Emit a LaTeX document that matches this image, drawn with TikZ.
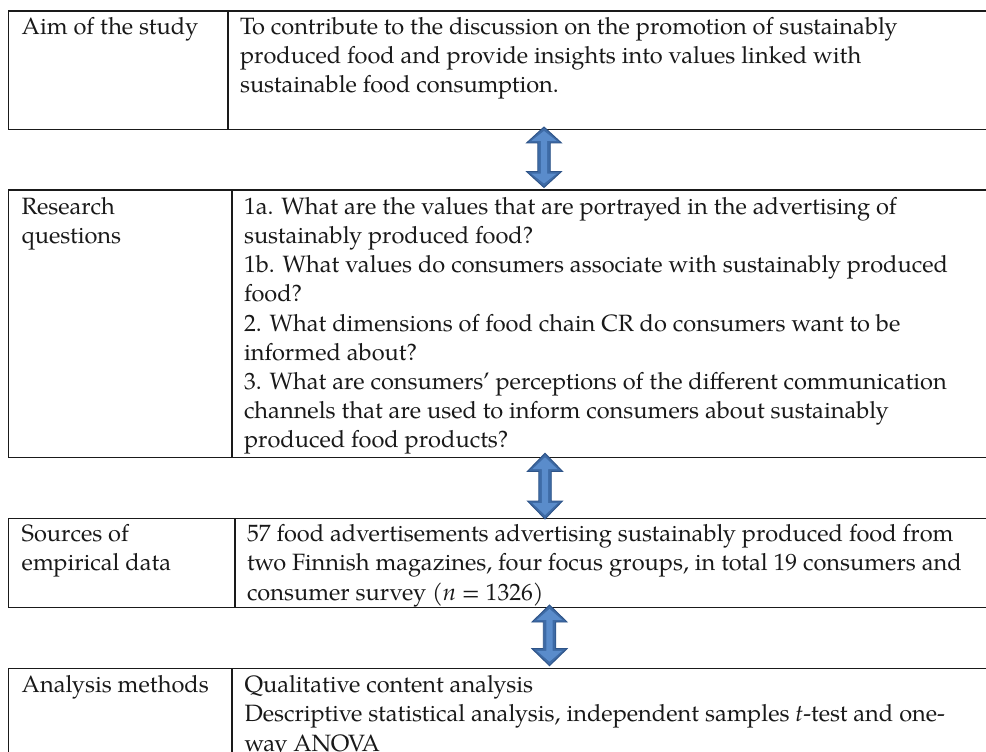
\documentclass[tikz,border=0pt]{standalone}
\usepackage{fontspec}
\setmainfont{texgyrepagella}[Extension=.otf, UprightFont=*-regular, ItalicFont=*-italic, BoldFont=*-bold, BoldItalicFont=*-bolditalic]
\usetikzlibrary{calc}
\definecolor{arrdark}{HTML}{3E6BA6}
\definecolor{arredge}{HTML}{2E5488}
\definecolor{arrlight}{HTML}{5A8CCB}
\definecolor{rule}{HTML}{1A1A1A}
\newcommand{\dblarr}[3]{%
  \filldraw[fill=arrdark, draw=arredge, line width=0.7pt, line join=miter]
    (#1) -- ($(#1)+(17.5,#3)$) -- ($(#1)+(6.25,#3)$) -- ($(#2)+(6.25,-#3)$)
    -- ($(#2)+(17.5,-#3)$) -- (#2) -- ($(#2)+(-17.5,-#3)$) -- ($(#2)+(-6.25,-#3)$)
    -- ($(#1)+(-6.25,#3)$) -- ($(#1)+(-17.5,#3)$) -- cycle;
  \fill[arrlight]
    ($(#1)+(0,4)$) -- ($(#1)+(12.5,#3-2.2)$) -- ($(#1)+(3.2,#3-2.2)$) -- ($(#2)+(3.2,-#3+2.2)$)
    -- ($(#2)+(12.5,-#3+2.2)$) -- ($(#2)+(0,-4)$) -- ($(#2)+(-12.5,-#3+2.2)$) -- ($(#2)+(-3.2,-#3+2.2)$)
    -- ($(#1)+(-3.2,#3-2.2)$) -- ($(#1)+(-12.5,#3-2.2)$) -- cycle;
}
\begin{document}
\begin{tikzpicture}[x=0.75pt,y=-0.75pt,
  cell/.style={draw=rule, line width=1.2pt, anchor=north west, inner sep=0pt, outer sep=0pt},
  txt/.style={anchor=base west, inner sep=0pt, outer sep=0pt, font=\fontsize{17.7}{21.9}\selectfont, text=black!90}]
\useasboundingbox (0,0) rectangle (986,752);
\clip (0,0) rectangle (986,752);
\fill[white] (0,0) rectangle (986,752);

% Row 1
\node[cell, minimum width=164.78pt, minimum height=88.88pt] (aimL) at (8.3,11) {};
\node[cell, minimum width=579pt, minimum height=88.88pt] (aimR) at (228,11) {};
\node[txt] (aimLt) at (21.7,34.3) {\parbox[t]{160pt}{\raggedright Aim of the study}};
\node[txt] (aimRt) at (240,34.3) {\parbox[t]{560pt}{\raggedright To contribute to the discussion on the promotion of sustainably\\produced food and provide insights into values linked with\\sustainable food consumption.}};

% Row 2
\node[cell, minimum width=167.55pt, minimum height=200.63pt] (rqL) at (8.3,190) {};
\node[cell, minimum width=576.2pt, minimum height=200.63pt] (rqR) at (231.7,190) {};
\node[txt] (rqLt) at (21.7,214.3) {\parbox[t]{160pt}{\raggedright Research\\questions}};
\node[txt] (rqRt) at (244,214.3) {\parbox[t]{560pt}{\raggedright 1a. What are the values that are portrayed in the advertising of\\sustainably produced food?\\1b. What values do consumers associate with sustainably produced\\food?\\2. What dimensions of food chain CR do consumers want to be\\informed about?\\3. What are consumers’ perceptions of the different communication\\channels that are used to inform consumers about sustainably\\produced food products?}};

% Row 3
\node[cell, minimum width=170.0pt, minimum height=66.83pt] (srcL) at (8.3,518.3) {};
\node[cell, minimum width=573.75pt, minimum height=66.83pt] (srcR) at (235,518.3) {};
\node[txt] (srcLt) at (21.7,541.7) {\parbox[t]{160pt}{\raggedright Sources of\\empirical data}};
\node[txt] (srcRt) at (247,541.7) {\parbox[t]{560pt}{\raggedright 57 food advertisements advertising sustainably produced food from\\two Finnish magazines, four focus groups, in total 19 consumers and\\consumer survey (\textit{n} = 1326)}};

% Row 4
\node[cell, minimum width=167.55pt, minimum height=98.8pt] (anL) at (8.3,668.3) {};
\node[cell, minimum width=576.2pt, minimum height=98.8pt] (anR) at (231.7,668.3) {};
\node[txt] (anLt) at (21.7,692.7) {\parbox[t]{160pt}{\raggedright Analysis methods}};
\node[txt] (anRt) at (244.5,692.7) {\parbox[t]{560pt}{\raggedright Qualitative content analysis\\Descriptive statistical analysis, independent samples \textit{t}-test and one-\\way ANOVA}};

% Arrows
\coordinate (a1t) at (544,127);
\coordinate (a1b) at (544,187.5);
\coordinate (a2t) at (545,453.3);
\coordinate (a2b) at (545,519);
\coordinate (a3t) at (549.5,605);
\coordinate (a3b) at (549.5,665.7);
\dblarr{a1t}{a1b}{16}
\dblarr{a2t}{a2b}{18}
\dblarr{a3t}{a3b}{17}
\end{tikzpicture}
\end{document}
